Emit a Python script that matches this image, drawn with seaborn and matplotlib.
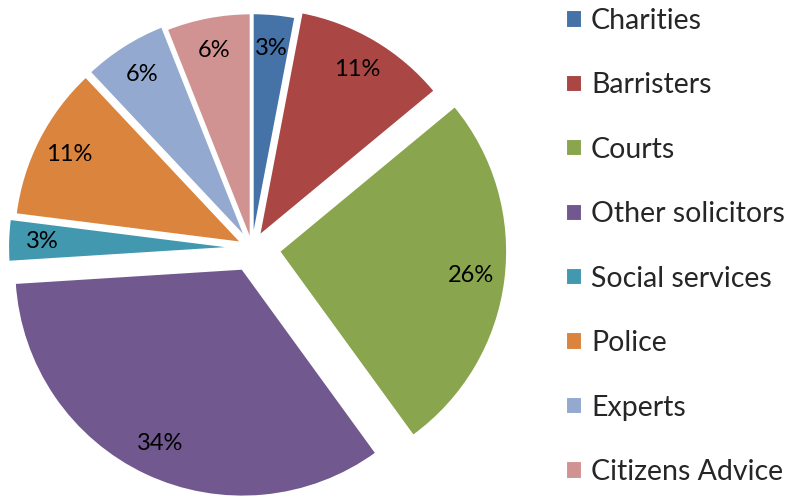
import numpy as np
import pandas as pd
import matplotlib
matplotlib.use("Agg")
import matplotlib.pyplot as plt
import seaborn as sns

# datos
categories = ["Charities", "Barristers", "Courts", "Other solicitors",
              "Social services", "Police", "Experts", "Citizens Advice"]
shares = [3, 11, 26, 34, 3, 11, 6, 6]
explode = [0.03, 0.06, 0.12, 0.10, 0.07, 0.05, 0.05, 0.03]
colors = ["#4572A7", "#AA4643", "#89A54E", "#71588F",
          "#4198AF", "#DB843D", "#93A9CF", "#D19392"]

df = pd.DataFrame({"source": categories, "share": shares})

sns.set_style("white")
plt.rcParams["font.family"] = ["Lato", "DejaVu Sans"]

fig = plt.figure(figsize=(7.93, 4.99), dpi=100)
ax = fig.add_axes([0, 0, 530 / 793, 1])

wedges, texts, autotexts = ax.pie(
    df["share"], explode=explode, colors=colors, startangle=90,
    counterclock=False, autopct="%1.0f%%", pctdistance=0.85,
    wedgeprops={"edgecolor": "white", "linewidth": 1.5},
    textprops={"fontsize": 17, "color": "black"})

s = 228.0
ax.set_xlim(-252 / s, (530 - 252) / s)
ax.set_ylim(-251 / s, 248 / s)
ax.set_aspect("auto")
ax.axis("off")

leg = fig.legend(wedges, df["source"], loc="center left",
                 bbox_to_anchor=(566 / 793, 0.506), frameon=False,
                 fontsize=20.5, handlelength=0.56, handleheight=0.56,
                 handletextpad=0.32, labelspacing=1.35, borderpad=0,
                 borderaxespad=0)

fig.savefig("out.png", dpi=100, facecolor="white")
